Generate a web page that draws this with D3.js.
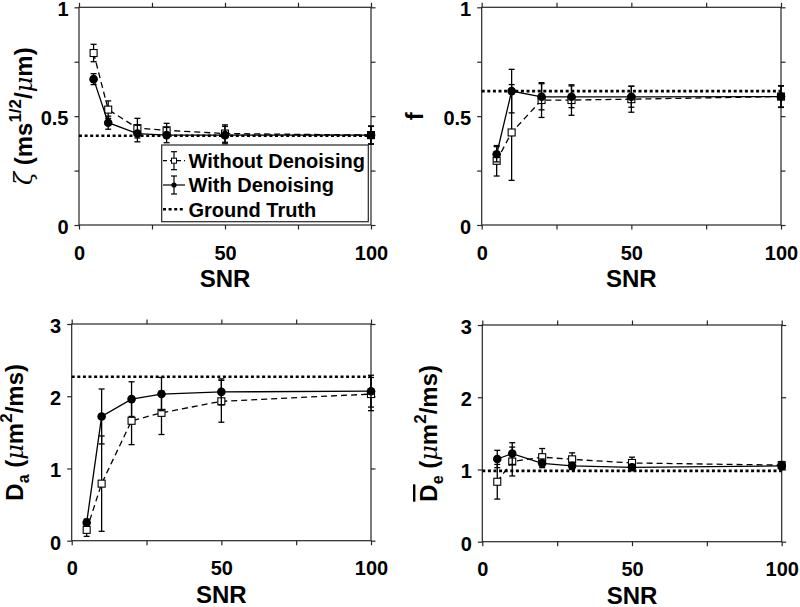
<!DOCTYPE html>
<html>
<head>
<meta charset="utf-8">
<script src="https://cdn.jsdelivr.net/npm/d3@7"></script>
<style>
  body { margin: 0; background: #fff; }
  text { font-family: "Liberation Sans", Arial, Helvetica, sans-serif; font-weight: bold; fill: #000; }
</style>
</head>
<body>
<div id="chart"></div>
<script>
// SNR levels on the x axis
const snr = [5, 10, 20, 30, 50, 100];
const xTicks = [0, 25, 50, 75, 100];
const xLabels = [0, 50, 100];

// zeta
const zetaWithout = [0.79, 0.53, 0.445, 0.435, 0.42, 0.413];
const zetaWithoutErr = [0.04, 0.04, 0.045, 0.032, 0.04, 0.04];
const zetaWith = [0.67, 0.47, 0.42, 0.413, 0.413, 0.413];
const zetaWithErr = [0.025, 0.03, 0.038, 0.035, 0.04, 0.042];
const zetaTruth = 0.41;

// f
const fWithout = [0.295, 0.425, 0.574, 0.574, 0.578, 0.59];
const fWithoutErr = [0.07, 0.22, 0.08, 0.07, 0.06, 0.05];
const fWith = [0.325, 0.615, 0.589, 0.589, 0.589, 0.59];
const fWithErr = [0.035, 0.1, 0.06, 0.05, 0.048, 0.048];
const fTruth = 0.615;

// Da
const daWithout = [0.15, 0.79, 1.66, 1.77, 1.93, 2.03];
const daWithoutErr = [0.09, 0.66, 0.33, 0.3, 0.29, 0.23];
const daWith = [0.25, 1.72, 1.96, 2.03, 2.06, 2.07];
const daWithErr = [0.05, 0.38, 0.24, 0.23, 0.18, 0.22];
const daTruth = 2.27;

// De
const deWithout = [0.83, 1.11, 1.17, 1.14, 1.09, 1.06];
const deWithoutErr = [0.24, 0.2, 0.12, 0.09, 0.08, 0.05];
const deWith = [1.145, 1.22, 1.085, 1.05, 1.03, 1.05];
const deWithErr = [0.12, 0.15, 0.06, 0.05, 0.04, 0.05];
const deTruth = 0.98;

const legendNames = ["Without Denoising", "With Denoising", "Ground Truth"];

const W = 800, H = 607;
const ink = "#262626";

const svg = d3.select("#chart").append("svg")
  .attr("width", W)
  .attr("height", H);

// panel layout (screen boxes of each axes)
const panels = [
  { left: 79, right: 371, top: 7.3, bottom: 225, yMax: 1,
    yTicks: [0, 0.25, 0.5, 0.75, 1], yLabels: [0, 0.5, 1],
    without: zetaWithout, withoutErr: zetaWithoutErr, with: zetaWith, withErr: zetaWithErr, truth: zetaTruth,
    labelX: 31.5,
    label: [{ t: "ζ", it: true }, { t: " (ms" }, { t: "1/2", sup: true }, { t: "/" }, { t: "μ", it: true }, { t: "m)" }],
    legend: true },
  { left: 481.7, right: 781, top: 7.3, bottom: 225, yMax: 1,
    yTicks: [0, 0.25, 0.5, 0.75, 1], yLabels: [0, 0.5, 1],
    without: fWithout, withoutErr: fWithoutErr, with: fWith, withErr: fWithErr, truth: fTruth,
    labelX: 423,
    label: [{ t: "f" }] },
  { left: 71.7, right: 371, top: 324, bottom: 540.7, yMax: 3,
    yTicks: [0, 1, 2, 3], yLabels: [0, 1, 2, 3],
    without: daWithout, withoutErr: daWithoutErr, with: daWith, withErr: daWithErr, truth: daTruth,
    labelX: 22.5,
    label: [{ t: "D" }, { t: "a", sub: true }, { t: " (" }, { t: "μ", it: true }, { t: "m" }, { t: "2", sup: true }, { t: "/ms)" }] },
  { left: 482.3, right: 781.7, top: 325, bottom: 541.7, yMax: 3,
    yTicks: [0, 1, 2, 3], yLabels: [0, 1, 2, 3],
    without: deWithout, withoutErr: deWithoutErr, with: deWith, withErr: deWithErr, truth: deTruth,
    labelX: 437,
    label: [{ t: "D", over: true }, { t: "e", sub: true }, { t: " (" }, { t: "μ", it: true }, { t: "m" }, { t: "2", sup: true }, { t: "/ms)" }] }
];

panels.forEach((p) => {
  const x = d3.scaleLinear().domain([0, 100]).range([p.left, p.right]);
  const y = d3.scaleLinear().domain([0, p.yMax]).range([p.bottom, p.top]);
  const g = svg.append("g");

  const fmtX = (d) => (xLabels.includes(d) ? d : "");
  const fmtY = (d) => (p.yLabels.includes(d) ? d : "");

  // axes, ticks pointing out on all four sides
  const axes = [
    g.append("g").attr("transform", `translate(0,${p.bottom})`)
      .call(d3.axisBottom(x).tickValues(xTicks).tickFormat(fmtX).tickSize(4.5).tickPadding(16)),
    g.append("g").attr("transform", `translate(0,${p.top})`)
      .call(d3.axisTop(x).tickValues(xTicks).tickFormat("").tickSize(4.5)),
    g.append("g").attr("transform", `translate(${p.left},0)`)
      .call(d3.axisLeft(y).tickValues(p.yTicks).tickFormat(fmtY).tickSize(4.5).tickPadding(6)),
    g.append("g").attr("transform", `translate(${p.right},0)`)
      .call(d3.axisRight(y).tickValues(p.yTicks).tickFormat("").tickSize(4.5))
  ];
  axes.forEach((a) => {
    a.select(".domain").remove();
    a.selectAll(".tick line").attr("stroke", ink).attr("stroke-width", 1.2);
    a.selectAll(".tick text").attr("font-size", 20).attr("fill", "#000");
  });
  // nudge y tick labels a touch lower, like the original
  axes[2].selectAll(".tick text").attr("dy", "0.42em");

  g.append("rect")
    .attr("x", p.left).attr("y", p.top)
    .attr("width", p.right - p.left).attr("height", p.bottom - p.top)
    .attr("fill", "none").attr("stroke", ink).attr("stroke-width", 1.2);

  // x label
  g.append("text")
    .attr("x", (p.left + p.right) / 2)
    .attr("y", p.bottom + 62)
    .attr("text-anchor", "middle")
    .attr("font-size", 24)
    .text("SNR");

  // y label (rotated, with sub/superscripts)
  const lab = g.append("text")
    .attr("transform", `translate(${p.labelX},${(p.top + p.bottom) / 2}) rotate(-90)`)
    .attr("text-anchor", "middle")
    .attr("font-size", 24);
  let shift = 0;
  p.label.forEach((s) => {
    const target = s.sub ? 6 : s.sup ? -11 : 0;
    const ts = lab.append("tspan").attr("dy", target - shift).text(s.t);
    shift = target;
    if (s.sub) ts.attr("font-size", 16);
    if (s.sup) ts.attr("font-size", 17);
    if (s.it) ts.attr("font-style", "italic").attr("font-weight", "normal")
      .style("font-family", "'DejaVu Serif', serif");
    if (s.over) ts.style("text-decoration", "overline");
  });

  const series = [
    { vals: p.without, errs: p.withoutErr, dash: "6,4", marker: "square" },
    { vals: p.with, errs: p.withErr, dash: null, marker: "circle" }
  ];

  series.forEach((s) => {
    const pts = snr.map((v, i) => ({ snr: v, value: s.vals[i], err: s.errs[i] }));

    g.append("path")
      .datum(pts)
      .attr("fill", "none")
      .attr("stroke", "#000")
      .attr("stroke-width", 1.3)
      .attr("stroke-dasharray", s.dash)
      .attr("d", d3.line().x((d) => x(d.snr)).y((d) => y(d.value)));

    // error bars
    const eb = g.append("g").attr("stroke", "#000").attr("stroke-width", 1.3);
    pts.forEach((d) => {
      const cx = x(d.snr);
      const hi = y(d.value + d.err), lo = y(d.value - d.err);
      eb.append("line").attr("x1", cx).attr("x2", cx).attr("y1", hi).attr("y2", lo);
      eb.append("line").attr("x1", cx - 3).attr("x2", cx + 3).attr("y1", hi).attr("y2", hi);
      eb.append("line").attr("x1", cx - 3).attr("x2", cx + 3).attr("y1", lo).attr("y2", lo);
    });

    if (s.marker === "square") {
      g.selectAll(null).data(pts).join("rect")
        .attr("x", (d) => x(d.snr) - 3.5).attr("y", (d) => y(d.value) - 3.5)
        .attr("width", 7).attr("height", 7)
        .attr("fill", "#fff").attr("stroke", "#000").attr("stroke-width", 1.1);
    } else {
      g.selectAll(null).data(pts).join("circle")
        .attr("cx", (d) => x(d.snr)).attr("cy", (d) => y(d.value))
        .attr("r", 4.3).attr("fill", "#000");
    }
  });

  // ground truth
  g.append("line")
    .attr("x1", x(0)).attr("x2", x(100))
    .attr("y1", y(p.truth)).attr("y2", y(p.truth))
    .attr("stroke", "#000")
    .attr("stroke-width", 2.6)
    .attr("stroke-dasharray", "3,2.6");

  if (p.legend) {
    const lg = g.append("g");
    lg.append("rect")
      .attr("x", 161.7).attr("y", 145).attr("width", 206.6).attr("height", 76.7)
      .attr("fill", "#fff").attr("stroke", ink).attr("stroke-width", 1.2);
    const rowY = [160.7, 185, 209.3];
    legendNames.forEach((name, i) => {
      const cy = rowY[i];
      const row = lg.append("g");
      if (i < 2) {
        row.append("line").attr("x1", 163).attr("x2", 185).attr("y1", cy).attr("y2", cy)
          .attr("stroke", "#000").attr("stroke-width", 1.2)
          .attr("stroke-dasharray", i === 0 ? "4,3" : null);
        row.append("line").attr("x1", 174).attr("x2", 174).attr("y1", cy - 9).attr("y2", cy + 9)
          .attr("stroke", "#000").attr("stroke-width", 1.2);
        [cy - 9, cy + 9].forEach((yy) => row.append("line")
          .attr("x1", 171).attr("x2", 177).attr("y1", yy).attr("y2", yy)
          .attr("stroke", "#000").attr("stroke-width", 1.2));
        if (i === 0) {
          row.append("rect").attr("x", 171.5).attr("y", cy - 2.5).attr("width", 5).attr("height", 5)
            .attr("fill", "#fff").attr("stroke", "#000").attr("stroke-width", 1);
        } else {
          row.append("circle").attr("cx", 174).attr("cy", cy).attr("r", 2.6).attr("fill", "#000");
        }
      } else {
        row.append("line").attr("x1", 163).attr("x2", 185).attr("y1", cy).attr("y2", cy)
          .attr("stroke", "#000").attr("stroke-width", 2.6).attr("stroke-dasharray", "3,2.6");
      }
      row.append("text").attr("x", 188.5).attr("y", cy + 7.2)
        .attr("font-size", 20).text(name);
    });
  }
});
</script>
</body>
</html>
